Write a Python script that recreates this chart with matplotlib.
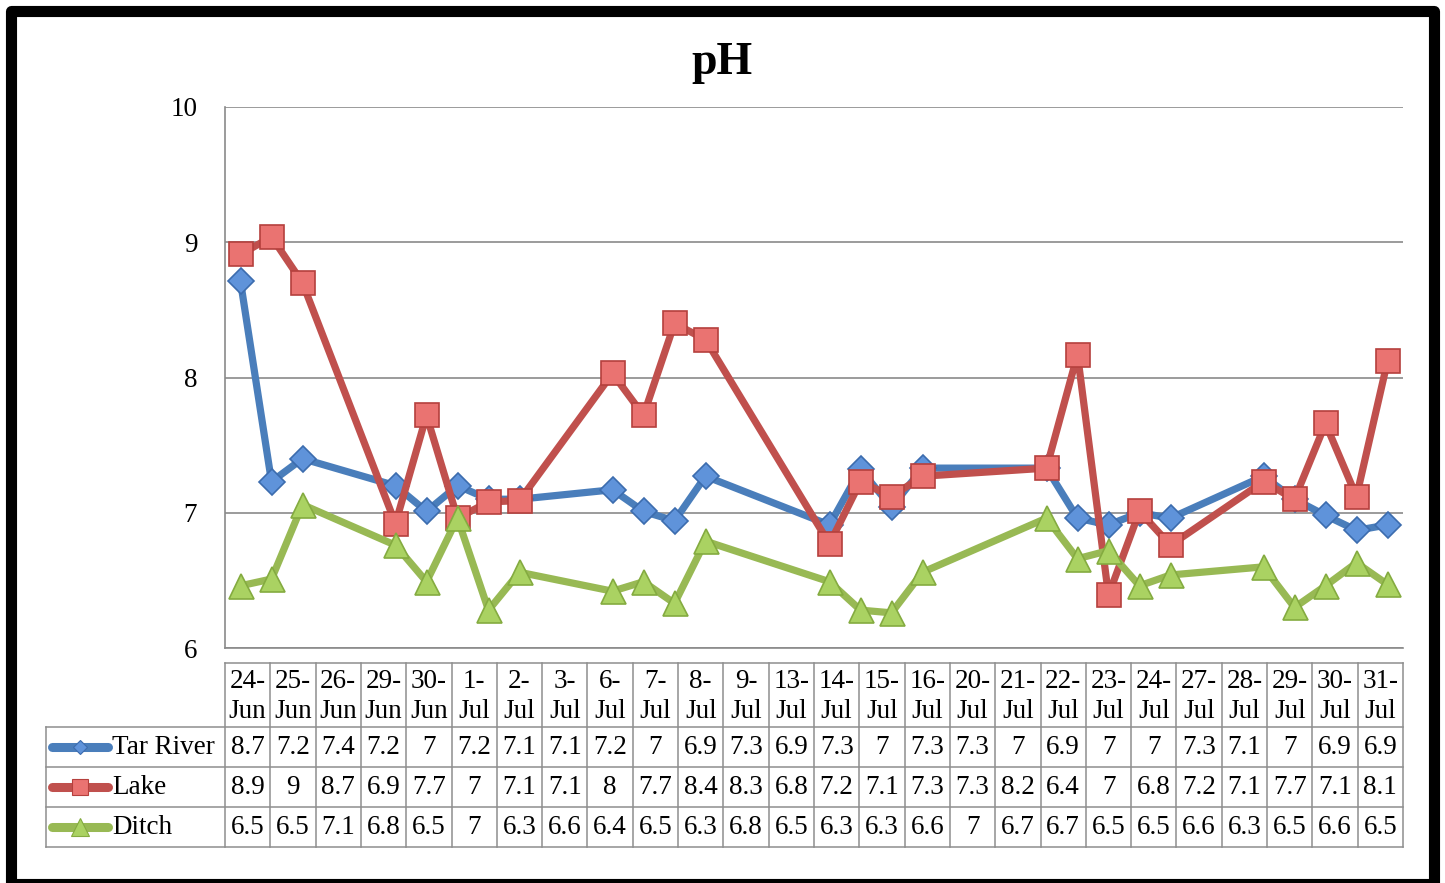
import pandas as pd
import matplotlib.pyplot as plt
from matplotlib.patches import Rectangle

plt.rcParams["font.family"] = ["Liberation Serif", "DejaVu Serif"]

# Fechas de muestreo y valores de pH por sitio.
fechas = ["24-Jun", "25-Jun", "26-Jun", "29-Jun", "30-Jun", "1-Jul", "2-Jul",
          "3-Jul", "6-Jul", "7-Jul", "8-Jul", "9-Jul", "13-Jul", "14-Jul",
          "15-Jul", "16-Jul", "20-Jul", "21-Jul", "22-Jul", "23-Jul", "24-Jul",
          "27-Jul", "28-Jul", "29-Jul", "30-Jul", "31-Jul"]
tar_river = [8.71, 7.23, 7.40, 7.20, 7.01, 7.20, 7.10, 7.10, 7.17, 7.01, 6.94,
             7.27, 6.91, 7.32, 7.04, 7.33, 7.33, 6.96, 6.91, 7.00, 6.96, 7.27,
             7.10, 6.98, 6.87, 6.91]
lake = [8.91, 9.04, 8.70, 6.92, 7.72, 6.96, 7.08, 7.09, 8.03, 7.72, 8.40, 8.28,
        6.77, 7.23, 7.12, 7.27, 7.33, 8.17, 6.39, 7.01, 6.76, 7.23, 7.10, 7.66,
        7.12, 8.12]
ditch = [6.46, 6.51, 7.06, 6.76, 6.49, 6.96, 6.28, 6.56, 6.42, 6.49, 6.33, 6.79,
         6.49, 6.28, 6.26, 6.56, 6.96, 6.66, 6.72, 6.46, 6.54, 6.60, 6.30, 6.46,
         6.63, 6.47]
y_ticks = [6, 7, 8, 9, 10]

# Estilo de cada serie: nombre, valores, linea, marcador, relleno, borde, tamano.
series = [
    ("Tar River", tar_river, "#4A7EBB", "D", "#5F93DA", "#3C6CAE", 13, 7.5),
    ("Lake", lake, "#C0504D", "s", "#EA7371", "#B5403D", 17, 12),
    ("Ditch", ditch, "#98B954", "^", "#AAD262", "#84AB40", 18, 13),
]

# Eje de fechas: dias desde el primer muestreo.
d = pd.to_datetime([f + "-2015" for f in fechas], format="%d-%b-%Y")
dias = (d - d[0]).days

W, H = 1445, 883
fig = plt.figure(figsize=(W / 100, H / 100), dpi=100)

L, R, T, B = 225, 1403, 107, 648
ax = fig.add_axes([L / W, 1 - B / H, (R - L) / W, (B - T) / H])
for nombre, vals, col, mk, fc, ec, ms, _ in series:
    ax.plot(dias, vals, color=col, lw=5.2, marker=mk, ms=ms,
            mfc=fc, mec=ec, mew=1.2, solid_joinstyle="round")
ax.set_xlim(-0.5, dias[-1] + 0.5)
ax.set_ylim(6, 10)
ax.set_yticks(y_ticks)
ax.set_yticklabels([str(t) for t in y_ticks], fontsize=19.5)
ax.set_xticks([])
ax.tick_params(axis="y", length=0, pad=20)
ax.grid(axis="y", color="#8A8A8A", lw=1.2)
ax.set_axisbelow(True)
for s in ["top", "right"]:
    ax.spines[s].set_visible(False)
for s in ["left", "bottom"]:
    ax.spines[s].set_color("#8A8A8A")
    ax.spines[s].set_linewidth(1.2)

# Capa superior en pixeles para la tabla de datos, el titulo y el marco.
ov = fig.add_axes([0, 0, 1, 1], facecolor="none")
ov.set_xlim(0, W)
ov.set_ylim(H, 0)
ov.axis("off")

ov.text(722, 63, "pH", fontsize=33, fontweight="bold", ha="center", va="center")

n = len(fechas)
colw = (R - L) / n
filas = [663, 727, 767, 807, 847]
gris = "#8E8E8E"
lw_t = 1.1
fs = 19.5

# Lineas de la tabla.
ov.plot([L, R], [filas[0], filas[0]], color=gris, lw=lw_t)
for y in filas[1:]:
    ov.plot([46, R], [y, y], color=gris, lw=lw_t)
ov.plot([46, 46], [filas[1], filas[-1]], color=gris, lw=lw_t)
for i in range(n + 1):
    x = L + i * colw
    ov.plot([x, x], [filas[0], filas[-1]], color=gris, lw=lw_t)

# Encabezados de fecha en dos lineas.
for i, f in enumerate(fechas):
    dia, mes = f.split("-")
    cx = L + (i + 0.5) * colw
    ov.text(cx, 682, dia + "-", fontsize=fs, ha="center", va="center")
    ov.text(cx, 711, mes, fontsize=fs, ha="center", va="center")

# Filas de valores con su clave de leyenda.
for j, (nombre, vals, col, mk, fc, ec, _, ms_k) in enumerate(series):
    cy = (filas[j + 1] + filas[j + 2]) / 2
    ov.plot([52, 108], [cy, cy], color=col, lw=6.5, solid_capstyle="round")
    ov.plot([80], [cy], marker=mk, ms=ms_k, mfc=fc, mec=ec, mew=0.8)
    ov.text(112, cy, nombre, fontsize=fs, ha="left", va="center")
    for i, v in enumerate(vals):
        txt = f"{v:.1f}"
        if txt.endswith(".0"):
            txt = txt[:-2]
        ov.text(L + (i + 0.5) * colw, cy, txt, fontsize=fs,
                ha="center", va="center")

# Marco negro exterior.
ov.add_patch(Rectangle((10.5, 10.5), 1434 - 10.5, 884 - 10.5, fill=False,
                       ec="black", lw=8, joinstyle="round", clip_on=False))

fig.savefig("out.png", dpi=100)
